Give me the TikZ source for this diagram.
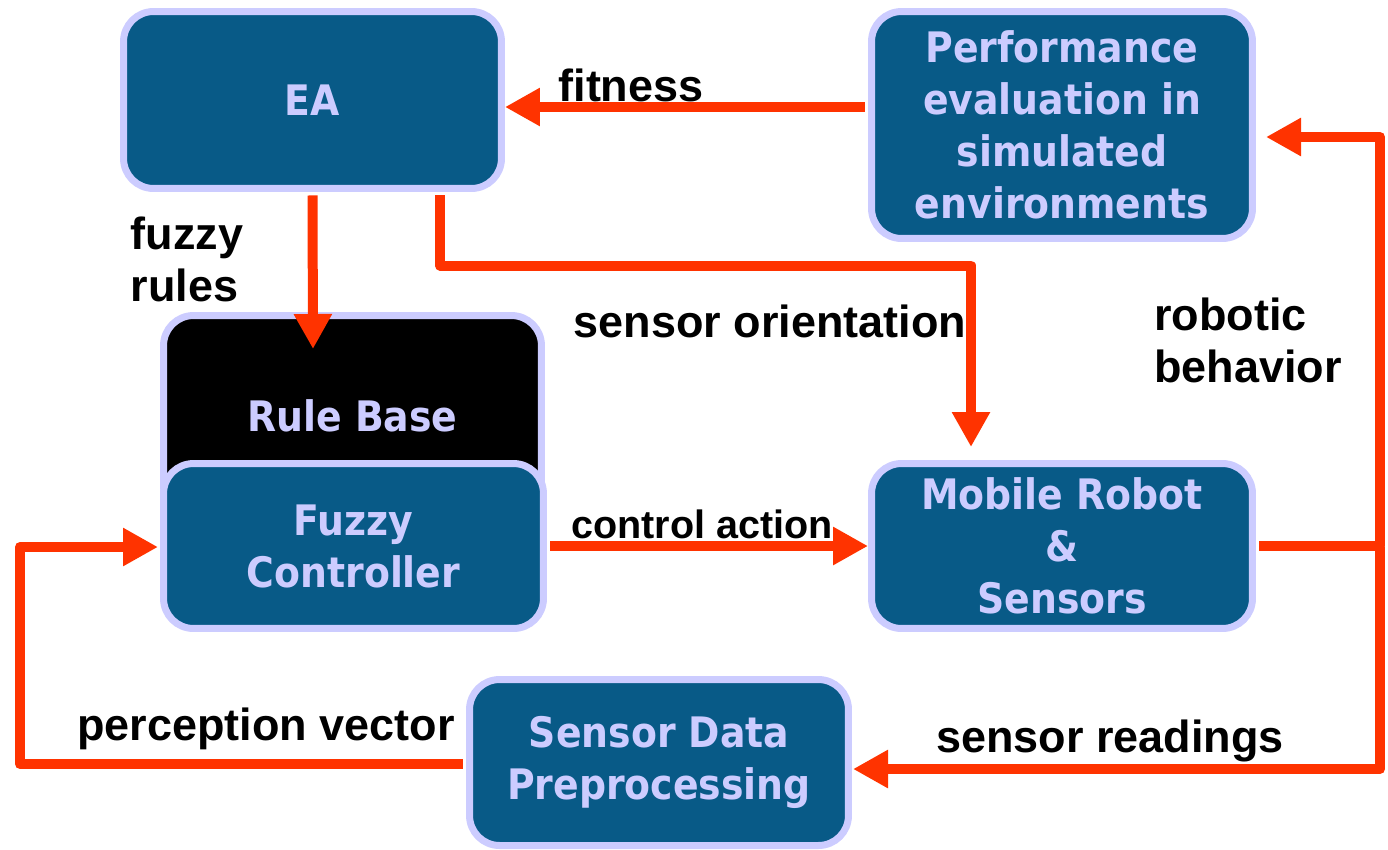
\documentclass[tikz,border=0pt]{standalone}
\usepackage{fontspec}
\setmainfont{Liberation Sans}
\newfontfamily\boxfont{DejaVu Sans Condensed}
\usetikzlibrary{arrows.meta}
\definecolor{boxblue}{HTML}{085A87}
\definecolor{boxrim}{HTML}{CCCCFF}
\definecolor{flow}{HTML}{FF3300}
\tikzset{
  block/.style={draw=boxrim, line width=0.14cm, fill=boxblue, rounded corners=0.6cm,
    text=boxrim, font=\boxfont\bfseries\fontsize{23.9}{29.6}\selectfont,
    align=center, inner sep=0pt, minimum width=7.62cm, minimum height=3.3cm},
  flowline/.style={flow, line width=0.2cm, line join=round, shorten <=0.07cm,
    -{Triangle[length=0.7cm,width=0.72cm]}},
  tag/.style={font=\bfseries\fontsize{25.6}{29.5}\selectfont, align=left, inner sep=0pt},
}

\begin{document}
\begin{tikzpicture}[x=0.02cm, y=-0.02cm]
    \useasboundingbox (0,0) rectangle (1388,849);

    % Blocks
    \node[block, minimum width=7.56cm, minimum height=3.54cm] (ea) at (312.5,100) {EA};
    \node[block, minimum height=4.54cm] (perf) at (1062,125)
        {Performance\\evaluation in\\simulated\\environments};
    \node[block, fill=black, minimum width=7.56cm, minimum height=4cm] (rules) at (352.5,415.5) {Rule Base};
    \node[block, minimum width=7.6cm] (fc) at (353.5,546) {Fuzzy\\Controller};
    \node[block] (robot) at (1062,546) {Mobile Robot\\\&\\Sensors};
    \node[block, minimum width=7.58cm, minimum height=3.32cm] (sdp) at (659,762.5)
        {Sensor Data\\Preprocessing};

    % Turning points and free ends
    \coordinate (rulesin) at (313,349);
    \coordinate (bend) at (971,265.5);
    \coordinate (robotin) at (971,447);
    \coordinate (rmid) at (1380,547);
    \coordinate (rtop) at (1380,137);
    \coordinate (perfin) at (1266,137);
    \coordinate (rbot) at (1380,769);
    \coordinate (sdpin) at (853,769);
    \coordinate (lbot) at (20,764);
    \coordinate (ltop) at (20,547);
    \coordinate (fcin) at (158,547);

    % Connectors
    \draw[flowline] (perf.west |- 0,107) -- (ea.east |- 0,107);
    \draw[flowline] (ea.south) -- (rulesin);
    \draw[flowline] ([xshift=2.55cm]ea.south) |- (bend) -- (robotin);
    \draw[flowline] (fc.east) -- (robot.west);
    \draw[flowline] (robot.east) -| (rtop) -- (perfin);
    \draw[flowline, shorten <=0pt] (rmid) -- (rbot) -- (sdpin);
    \draw[flowline] (sdp.west |- lbot) -- (lbot) -- (ltop) -- (fcin);

    % Labels
    \node[tag] (fit) at (631,85) {fitness};
    \node[tag] (fuzrul) at (187,259) {fuzzy\\rules};
    \node[tag] (orient) at (770,321) {sensor orientation};
    \node[tag] (behav) at (1248,340) {robotic\\behavior};
    \node[tag, font=\bfseries\fontsize{22.5}{27}\selectfont] (act) at (702,524) {control action};
    \node[tag] (percep) at (266,729) {perception vector};
    \node[tag] (read) at (1110,741) {sensor readings};
\end{tikzpicture}
\end{document}
